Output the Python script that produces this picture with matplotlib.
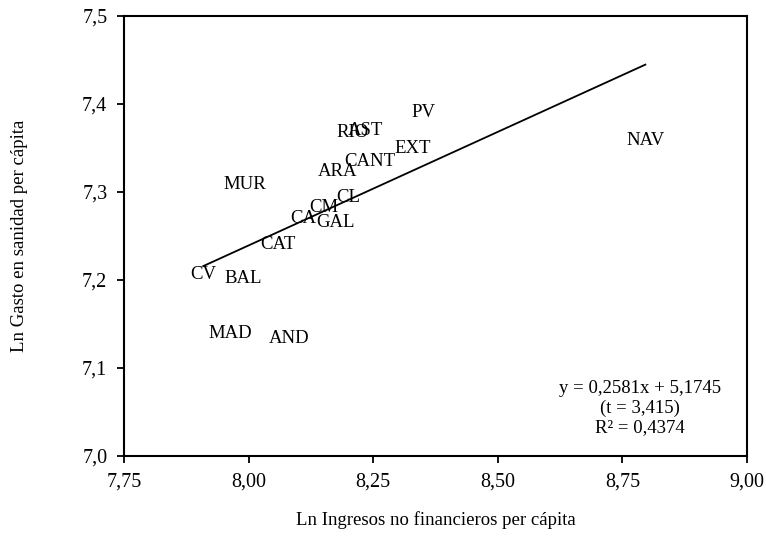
import numpy as np
import matplotlib.pyplot as plt
from matplotlib.ticker import FuncFormatter

plt.rcParams['font.family'] = ['Liberation Serif', 'DejaVu Serif']

# comunidades autonomas: ln ingresos no financieros / ln gasto en sanidad (per capita)
regions = ["PV", "RIO", "AST", "EXT", "CANT", "ARA", "MUR", "CL", "CM", "CA",
           "GAL", "CAT", "CV", "BAL", "MAD", "AND", "NAV"]
ln_ingresos = [8.350, 8.208, 8.234, 8.330, 8.244, 8.178, 7.993, 8.200, 8.150, 8.109,
               8.174, 8.059, 7.909, 7.989, 7.963, 8.081, 8.796]
ln_gasto = [7.390, 7.368, 7.370, 7.350, 7.335, 7.323, 7.308, 7.294, 7.282, 7.270,
            7.265, 7.240, 7.206, 7.202, 7.139, 7.133, 7.358]

slope = 0.2581
intercept = 5.1745

fig = plt.figure(figsize=(7.66, 5.37), dpi=100)
ax = fig.add_axes([0.1619, 0.1508, 0.8133, 0.8194])

for name, x, y in zip(regions, ln_ingresos, ln_gasto):
    ax.text(x, y, name, ha='center', va='center', fontsize=13.5)

#linea de tendencia entre el minimo y el maximo
xs = np.array([min(ln_ingresos), max(ln_ingresos)])
ax.plot(xs, slope * xs + intercept, color='black', lw=1.3)

ax.set_xlim(7.75, 9.0)
ax.set_ylim(7.0, 7.5)
ax.set_xticks(np.arange(7.75, 9.01, 0.25))
ax.set_yticks(np.arange(7.0, 7.51, 0.1))
ax.xaxis.set_major_formatter(FuncFormatter(lambda v, p: f"{v:.2f}".replace('.', ',')))
ax.yaxis.set_major_formatter(FuncFormatter(lambda v, p: f"{v:.1f}".replace('.', ',')))
ax.tick_params(direction='out', length=5, width=1.3, labelsize=14.5, pad=7)

for s in ax.spines.values():
    s.set_linewidth(1.5)

ax.set_xlabel("Ln Ingresos no financieros per cápita", fontsize=13.5)
ax.set_ylabel("Ln Gasto en sanidad per cápita", fontsize=13.5)
ax.xaxis.label.set_va('center')
ax.yaxis.label.set_va('center')
ax.xaxis.set_label_coords(0.5, -0.145)
ax.yaxis.set_label_coords(-0.167, 0.5)

ax.text(0.828, 0.109, "y = 0,2581x + 5,1745\n(t = 3,415)\nR² = 0,4374",
        transform=ax.transAxes, ha='center', va='center', fontsize=13.5,
        linespacing=1.2)

fig.savefig("out.png", dpi=100)
